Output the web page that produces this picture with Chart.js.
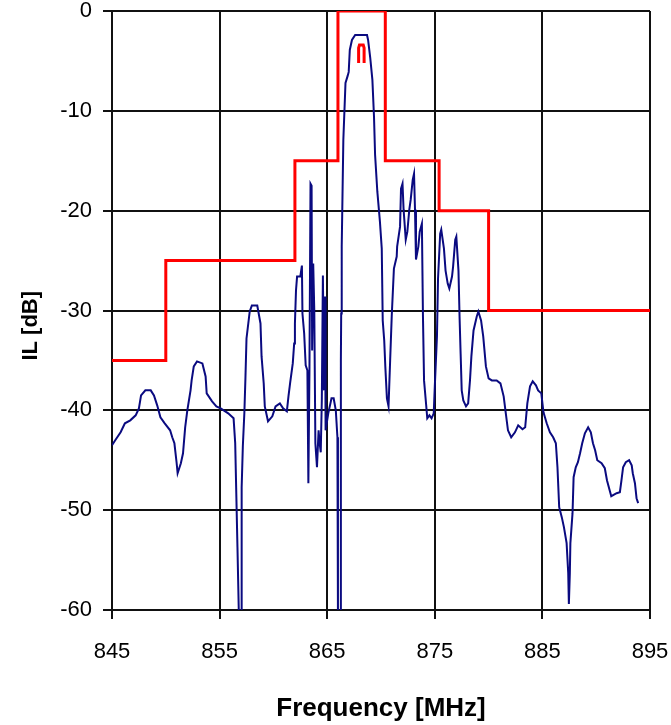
<!DOCTYPE html>
<html>
<head>
<meta charset="utf-8">
<script src="https://cdn.jsdelivr.net/npm/chart.js@4.4.1/dist/chart.umd.min.js"></script>
<style>
  html, body { margin: 0; padding: 0; background: #ffffff; }
  #wrap { width: 671px; height: 725px; }
</style>
</head>
<body>
<div id="wrap"><canvas id="c" width="671" height="725"></canvas></div>
<script>
// ---- Data ----
// Measured insertion loss trace
const traceFreq = [
  845.0, 845.3, 845.8, 846.2, 846.7, 847.2, 847.5, 847.7, 848.1, 848.6,
  848.9, 849.2, 849.5, 849.9, 850.4, 850.6, 850.8, 851.0, 851.1, 851.4,
  851.6, 851.8, 852.0, 852.3, 852.4, 852.6, 852.9, 853.4, 853.7, 853.8,
  854.3, 854.7, 855.1, 855.8, 856.3, 856.45, 856.66, 856.8, 857.0, 857.05,
  857.16, 857.3, 857.4, 857.5, 857.8, 858.0, 858.5, 858.8, 858.9, 859.1,
  859.2, 859.5, 859.9, 860.2, 860.6, 860.9, 861.25, 861.4, 861.55, 861.8,
  861.93, 862.0, 862.1, 862.2, 862.5, 862.65, 862.7, 862.86, 863.0, 863.16,
  863.25, 863.35, 863.45, 863.55, 863.6, 863.7, 863.8, 863.9, 864.05, 864.2,
  864.3, 864.4, 864.5, 864.6, 864.7, 864.8, 864.85, 865.1, 865.4, 865.6,
  865.8, 865.95, 866.0, 866.2, 866.27, 866.3, 866.35, 866.5, 866.7, 866.9,
  867.0, 867.1, 867.3, 867.6, 868.7, 868.8, 869.0, 869.2, 869.35, 869.45,
  869.66, 869.9, 870.07, 870.16, 870.3, 870.4, 870.55, 870.7, 870.85, 871.0,
  871.2, 871.46, 871.5, 871.77, 871.86, 872.0, 872.1, 872.3, 872.45, 872.63,
  872.76, 872.95, 873.07, 873.16, 873.25, 873.47, 873.6, 873.8, 873.9, 874.0,
  874.2, 874.3, 874.5, 874.7, 874.9, 875.0, 875.2, 875.3, 875.5, 875.6,
  875.85, 876.0, 876.2, 876.35, 876.6, 876.7, 876.9, 877.0, 877.2, 877.3,
  877.4, 877.5, 877.65, 877.9, 878.1, 878.27, 878.4, 878.6, 878.9, 879.05,
  879.3, 879.5, 879.75, 880.0, 880.3, 880.75, 881.1, 881.4, 881.6, 881.8,
  882.1, 882.45, 882.75, 883.15, 883.4, 883.6, 883.85, 884.1, 884.4, 884.6,
  884.9, 885.1, 885.4, 885.7, 886.0, 886.25, 886.4, 886.56, 886.8, 887.0,
  887.25, 887.4, 887.46, 887.55, 887.6, 887.8, 887.9, 888.1, 888.3, 888.5,
  888.7, 888.95, 889.25, 889.5, 889.7, 889.9, 890.1, 890.5, 890.8, 891.0,
  891.3, 891.4, 891.9, 892.2, 892.35, 892.5, 892.75, 893.06, 893.3, 893.4,
  893.6, 893.75, 893.9
];
const traceIL = [
  -43.5, -43.0, -42.2, -41.3, -41.0, -40.5, -39.8, -38.5, -38.0, -38.0,
  -38.5, -39.5, -40.7, -41.3, -42.0, -42.7, -43.3, -45.2, -46.3, -45.3,
  -44.3, -41.7, -40.0, -38.0, -37.0, -35.6, -35.1, -35.3, -36.6, -38.3,
  -39.1, -39.6, -39.8, -40.3, -40.8, -43.3, -53.7, -61.0, -61.0, -47.7,
  -43.6, -40.3, -36.8, -32.8, -30.1, -29.5, -29.5, -31.3, -34.6, -37.3,
  -39.6, -41.1, -40.6, -39.6, -39.3, -39.8, -40.1, -38.6, -37.3, -35.3,
  -33.3, -31.3, -28.0, -26.6, -26.6, -25.5, -30.3, -32.3, -35.5, -36.0,
  -47.3, -36.0, -17.3, -17.5, -34.0, -25.3, -30.0, -43.3, -45.7, -42.0,
  -43.3, -44.2, -39.0, -26.5, -38.0, -28.6, -42.0, -40.3, -38.8, -38.8,
  -40.0, -42.7, -61.0, -61.0, -35.0, -30.3, -23.6, -12.9, -7.2, -6.5,
  -6.1, -3.9, -2.9, -2.4, -2.4, -2.9, -4.7, -6.9, -10.6, -14.4,
  -18.1, -21.1, -23.8, -31.0, -33.0, -35.6, -38.8, -39.6, -35.0, -30.5,
  -25.8, -24.6, -23.6, -21.6, -17.8, -17.3, -19.9, -22.9, -22.1, -19.9,
  -18.9, -16.9, -16.3, -19.9, -24.9, -23.6, -22.1, -21.3, -30.6, -37.0,
  -39.5, -40.8, -40.5, -40.8, -40.3, -37.6, -32.6, -26.8, -22.3, -21.9,
  -23.8, -26.0, -27.3, -27.8, -26.6, -25.6, -22.9, -22.6, -26.0, -30.6,
  -34.3, -38.0, -39.0, -39.6, -39.3, -37.0, -34.6, -32.0, -30.6, -30.1,
  -31.0, -32.6, -35.6, -36.8, -37.0, -37.0, -37.3, -38.6, -40.3, -42.0,
  -42.7, -42.2, -41.5, -41.9, -41.7, -39.3, -37.6, -37.1, -37.5, -38.0,
  -38.3, -40.2, -41.3, -42.2, -42.7, -43.3, -45.7, -49.7, -50.7, -51.7,
  -53.3, -56.3, -59.4, -56.3, -53.3, -50.3, -46.7, -45.7, -45.2, -44.3,
  -43.3, -42.3, -41.7, -42.2, -43.3, -44.0, -45.0, -45.3, -45.8, -47.0,
  -48.2, -48.6, -48.3, -48.2, -47.0, -45.7, -45.2, -45.0, -45.5, -46.3,
  -47.3, -48.8, -49.3
];

// Spec mask (outer limit line)
const maskFreq = [845, 850, 850, 862, 862, 866, 866, 870.4, 870.4, 875.4, 875.4, 880, 880, 895];
const maskIL   = [-35, -35, -25, -25, -15, -15, 0, 0, -15, -15, -20, -20, -30, -30];

// Passband marker (small inner limit)
const passFreq = [867.92, 867.92, 868.0, 868.35, 868.43, 868.43];
const passIL   = [-5.2, -3.7, -3.4, -3.4, -3.7, -5.2];

// Axis ticks
const xTicks = [845, 855, 865, 875, 885, 895];
const yTicks = [0, -10, -20, -30, -40, -50, -60];

const xyPairs = (xs, ys) => xs.map((x, i) => ({ x: x, y: ys[i] }));

const FONT = "'Liberation Sans', Arial, sans-serif";

new Chart(document.getElementById('c'), {
  type: 'scatter',
  data: {
    datasets: [
      {
        label: 'Mask',
        data: xyPairs(maskFreq, maskIL),
        showLine: true,
        borderColor: '#ff0000',
        borderWidth: 3,
        pointRadius: 0,
        tension: 0,
        clip: 0,
        order: 2
      },
      {
        label: 'Passband',
        data: xyPairs(passFreq, passIL),
        showLine: true,
        borderColor: '#ff0000',
        borderWidth: 3,
        pointRadius: 0,
        tension: 0,
        order: 0
      },
      {
        label: 'IL',
        data: xyPairs(traceFreq, traceIL),
        showLine: true,
        borderColor: '#0a0a80',
        borderWidth: 2,
        pointRadius: 0,
        tension: 0,
        clip: 0,
        order: 1
      }
    ]
  },
  options: {
    responsive: false,
    animation: false,
    devicePixelRatio: 1,
    layout: { padding: { top: 11, right: 21, left: 0, bottom: 0 } },
    plugins: { legend: { display: false }, tooltip: { enabled: false } },
    scales: {
      x: {
        type: 'linear',
        min: 845, max: 895,
        afterFit: (s) => { s.height = 115; s.paddingLeft = 0; s.paddingRight = 0; },
        afterBuildTicks: (s) => { s.ticks = xTicks.map(v => ({ value: v })); },
        ticks: { color: '#000', font: { family: FONT, size: 22 }, padding: 20, maxRotation: 0 },
        grid: { color: '#111111', lineWidth: 2, tickLength: 9, drawTicks: true },
        border: { color: '#111111', width: 2 },
        title: {
          display: true, text: 'Frequency [MHz]', color: '#000',
          font: { family: FONT, size: 26, weight: 'bold' },
          padding: { top: 0, bottom: 1 }
        }
      },
      y: {
        type: 'linear',
        min: -60, max: 0,
        afterFit: (s) => { s.width = 112; s.paddingTop = 0; s.paddingBottom = 0; },
        afterBuildTicks: (s) => { s.ticks = yTicks.map(v => ({ value: v })); },
        ticks: { color: '#000', font: { family: FONT, size: 22 }, padding: 11 },
        grid: { color: '#111111', lineWidth: 2, tickLength: 9, drawTicks: true },
        border: { color: '#111111', width: 2 },
        title: {
          display: true, text: 'IL [dB]     ', color: '#000',
          font: { family: FONT, size: 22, weight: 'bold' },
          padding: { top: 18, bottom: 0 }
        }
      }
    }
  }
});
</script>
</body>
</html>
